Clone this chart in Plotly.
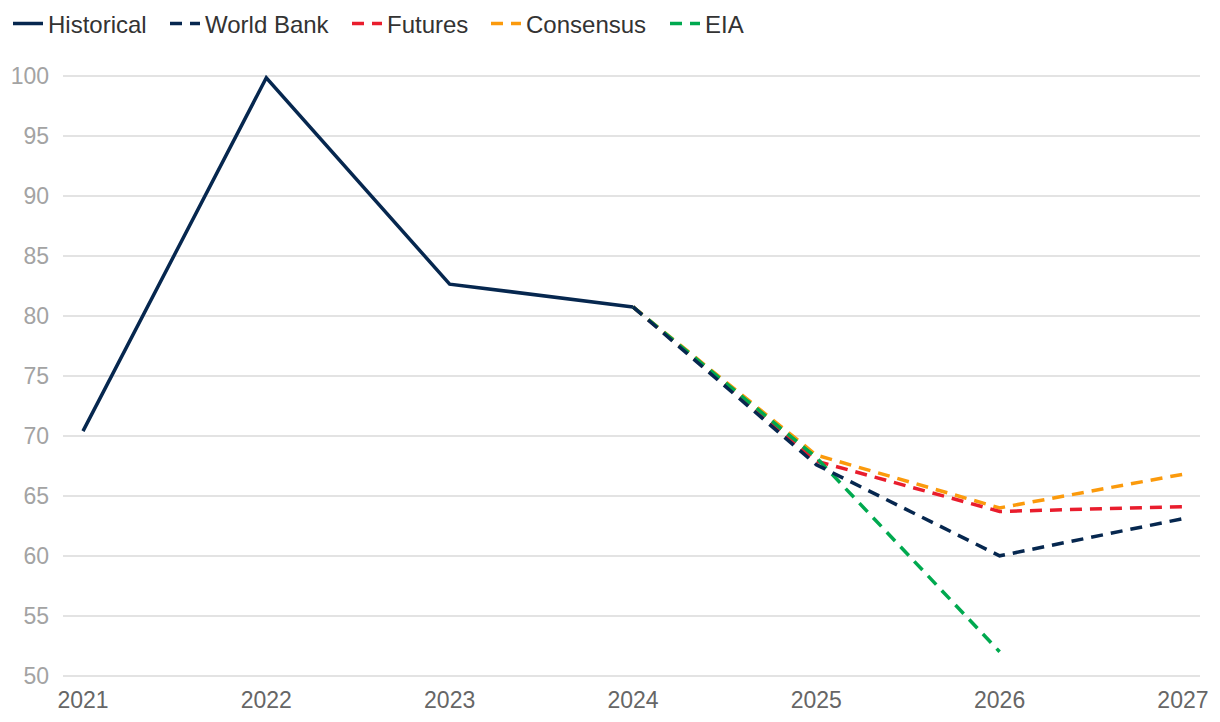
import plotly.graph_objects as go

years_hist = [2021, 2022, 2023, 2024]
historical = [70.4, 99.85, 82.65, 80.75]

years_fc = [2024, 2025, 2026, 2027]
world_bank = [80.75, 67.6, 60.0, 63.1]
futures = [80.75, 67.9, 63.7, 64.1]
consensus = [80.75, 68.4, 64.0, 66.8]
years_eia = [2024, 2025, 2026]
eia = [80.75, 68.2, 52.0]

x_ticks = [2021, 2022, 2023, 2024, 2025, 2026, 2027]
y_ticks = [50, 55, 60, 65, 70, 75, 80, 85, 90, 95, 100]

NAVY = "#06274f"
RED = "#e91d2d"
ORANGE = "#fb9a0c"
GREEN = "#00a94f"
DASH = "12px,8px"
LW = 3.5

fig = go.Figure()
fig.add_trace(go.Scatter(x=years_hist, y=historical, name="Historical", mode="lines",
                         line=dict(color=NAVY, width=LW), legend="legend"))
fig.add_trace(go.Scatter(x=years_fc, y=consensus, name="Consensus", mode="lines",
                         line=dict(color=ORANGE, width=LW, dash=DASH), legend="legend4"))
fig.add_trace(go.Scatter(x=years_fc, y=futures, name="Futures", mode="lines",
                         line=dict(color=RED, width=LW, dash=DASH), legend="legend3"))
fig.add_trace(go.Scatter(x=years_eia, y=eia, name="EIA", mode="lines",
                         line=dict(color=GREEN, width=LW, dash=DASH), legend="legend5"))
fig.add_trace(go.Scatter(x=years_fc, y=world_bank, name="World Bank", mode="lines",
                         line=dict(color=NAVY, width=LW, dash=DASH), legend="legend2"))

FONT = "Liberation Sans, Arial, Helvetica, sans-serif"
W, H = 1212, 714


def leg(xpx):
    return dict(orientation="h", x=xpx / W, xref="container", y=1 - 16 / H, yref="container",
                xanchor="left", yanchor="middle", font=dict(size=24, color="#333333"),
                itemwidth=30, bgcolor="rgba(0,0,0,0)")


fig.update_layout(
    width=W, height=H,
    paper_bgcolor="white", plot_bgcolor="white",
    margin=dict(l=55, r=20, t=56, b=45, autoexpand=False),
    font=dict(family=FONT, size=22, color="#333333"),
    showlegend=True,
    legend=leg(0), legend2=leg(157), legend3=leg(339), legend4=leg(478), legend5=leg(657),
    hovermode=False,
    xaxis=dict(range=[2020.891, 2027.093], tickmode="array", tickvals=x_ticks,
               ticktext=[str(v) for v in x_ticks], showgrid=False, zeroline=False,
               showline=False, ticks="", automargin=False, ticklabelstandoff=7,
               tickfont=dict(size=23, color="#666666")),
    yaxis=dict(range=[49.9, 101], tickmode="array", tickvals=y_ticks,
               showgrid=True, gridcolor="#e3e3e3", gridwidth=1.5, zeroline=False,
               showline=False, ticks="", automargin=False, ticklabelstandoff=13,
               tickfont=dict(size=23, color="#a3a3a3")),
)

fig.write_html("out.html")
